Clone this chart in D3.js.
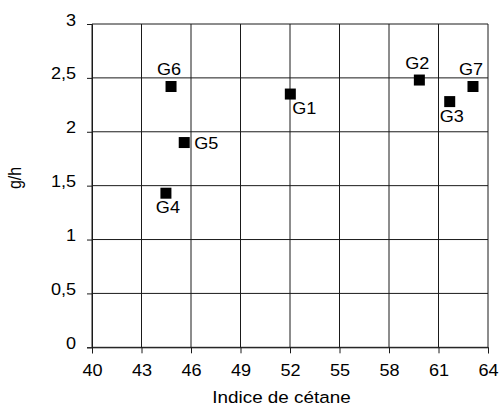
<!DOCTYPE html>
<html>
<head>
<meta charset="utf-8">
<script src="https://cdn.jsdelivr.net/npm/d3@7"></script>
<style>
  html, body { margin: 0; padding: 0; background: #fff; }
  svg { display: block; font-family: "Liberation Sans", Arial, sans-serif; }
</style>
</head>
<body>
<svg id="chart" width="502" height="410"></svg>
<script>
// ---- data ----
const names   = ["G1", "G2", "G3", "G4", "G5", "G6", "G7"];
const cetane  = [52.02, 59.84, 61.68, 44.48, 45.59, 44.79, 63.09];
const gph     = [2.35, 2.48, 2.28, 1.43, 1.90, 2.42, 2.42];
const labelSide = ["belowright", "above", "below", "below", "right", "above", "above"];
const xTicks  = [40, 43, 46, 49, 52, 55, 58, 61, 64];
const yTicks  = [0, 0.5, 1, 1.5, 2, 2.5, 3];
const xTitle  = "Indice de cétane";
const yTitle  = "g/h";

// ---- layout / style ----
const plotL = 92, plotR = 488, plotT = 24, plotB = 347.3;
const K = 1.13;             // horizontal text stretch
const fontSize = 16;
const lineColor = "#1a1a1a";
const sideOffsets = {
  above:      { dx: -2, dy: -11, anchor: "middle" },
  below:      { dx: 2,  dy: 20,  anchor: "middle" },
  right:      { dx: 10, dy: 6,   anchor: "start" },
  belowright: { dx: 2,  dy: 20,  anchor: "start" }
};

const svg = d3.select("#chart");
const x = d3.scaleLinear().domain([40, 64]).range([plotL, plotR]);
const y = d3.scaleLinear().domain([0, 3]).range([plotB, plotT]);

function stretch(sel, k) {
  sel.each(function () {
    const t = d3.select(this);
    const xv = +(t.attr("x") || 0);
    t.attr("x", xv / k).attr("transform", `scale(${k},1)`);
  });
}

// grid
svg.append("g").selectAll("line").data(xTicks).join("line")
  .attr("x1", d => x(d)).attr("x2", d => x(d))
  .attr("y1", plotT).attr("y2", plotB)
  .attr("stroke", lineColor).attr("stroke-width", 1);
svg.append("g").selectAll("line").data(yTicks).join("line")
  .attr("x1", plotL).attr("x2", plotR)
  .attr("y1", d => y(d)).attr("y2", d => y(d))
  .attr("stroke", lineColor).attr("stroke-width", 1);

// axes
const xAxis = d3.axisBottom(x).tickValues(xTicks).tickSize(6).tickPadding(0)
  .tickFormat(d3.format("d"));
const gx = svg.append("g").attr("transform", `translate(0,${plotB})`).call(xAxis);
gx.select(".domain").attr("stroke", lineColor);
gx.selectAll(".tick line").attr("stroke", lineColor);
gx.selectAll("text").attr("y", 29).attr("dy", null)
  .attr("font-size", fontSize).attr("font-family", "Liberation Sans, Arial, sans-serif")
  .attr("fill", "#000");
stretch(gx.selectAll("text"), K);

const yAxis = d3.axisLeft(y).tickValues(yTicks).tickSize(5).tickPadding(0)
  .tickFormat(d => String(d).replace(".", ","));
const gy = svg.append("g").attr("transform", `translate(${plotL},0)`).call(yAxis);
gy.select(".domain").attr("stroke", lineColor);
gy.selectAll(".tick line").attr("stroke", lineColor);
gy.selectAll("text").attr("x", -16).attr("dy", null).attr("y", 1)
  .attr("font-size", fontSize).attr("font-family", "Liberation Sans, Arial, sans-serif")
  .attr("fill", "#000");
stretch(gy.selectAll("text"), K);

// points
const pts = names.map((n, i) => ({ name: n, x: cetane[i], y: gph[i], side: labelSide[i] }));
svg.append("g").selectAll("rect").data(pts).join("rect")
  .attr("x", d => x(d.x) - 5.5).attr("y", d => y(d.y) - 5.5)
  .attr("width", 11).attr("height", 11).attr("fill", "#000");

const labels = svg.append("g").selectAll("text").data(pts).join("text")
  .attr("x", d => x(d.x) + sideOffsets[d.side].dx)
  .attr("y", d => y(d.y) + sideOffsets[d.side].dy)
  .attr("text-anchor", d => sideOffsets[d.side].anchor)
  .attr("font-size", fontSize).attr("fill", "#000")
  .text(d => d.name);
stretch(labels, K);

// titles
const xt = svg.append("text").attr("x", 281.5).attr("y", 403)
  .attr("text-anchor", "middle").attr("font-size", 17).attr("fill", "#000")
  .text(xTitle);
stretch(xt, 1.11);

svg.append("text")
  .attr("transform", `translate(21,178) rotate(-90) scale(1,${K})`)
  .attr("text-anchor", "middle").attr("font-size", fontSize).attr("fill", "#000")
  .text(yTitle);
</script>
</body>
</html>
